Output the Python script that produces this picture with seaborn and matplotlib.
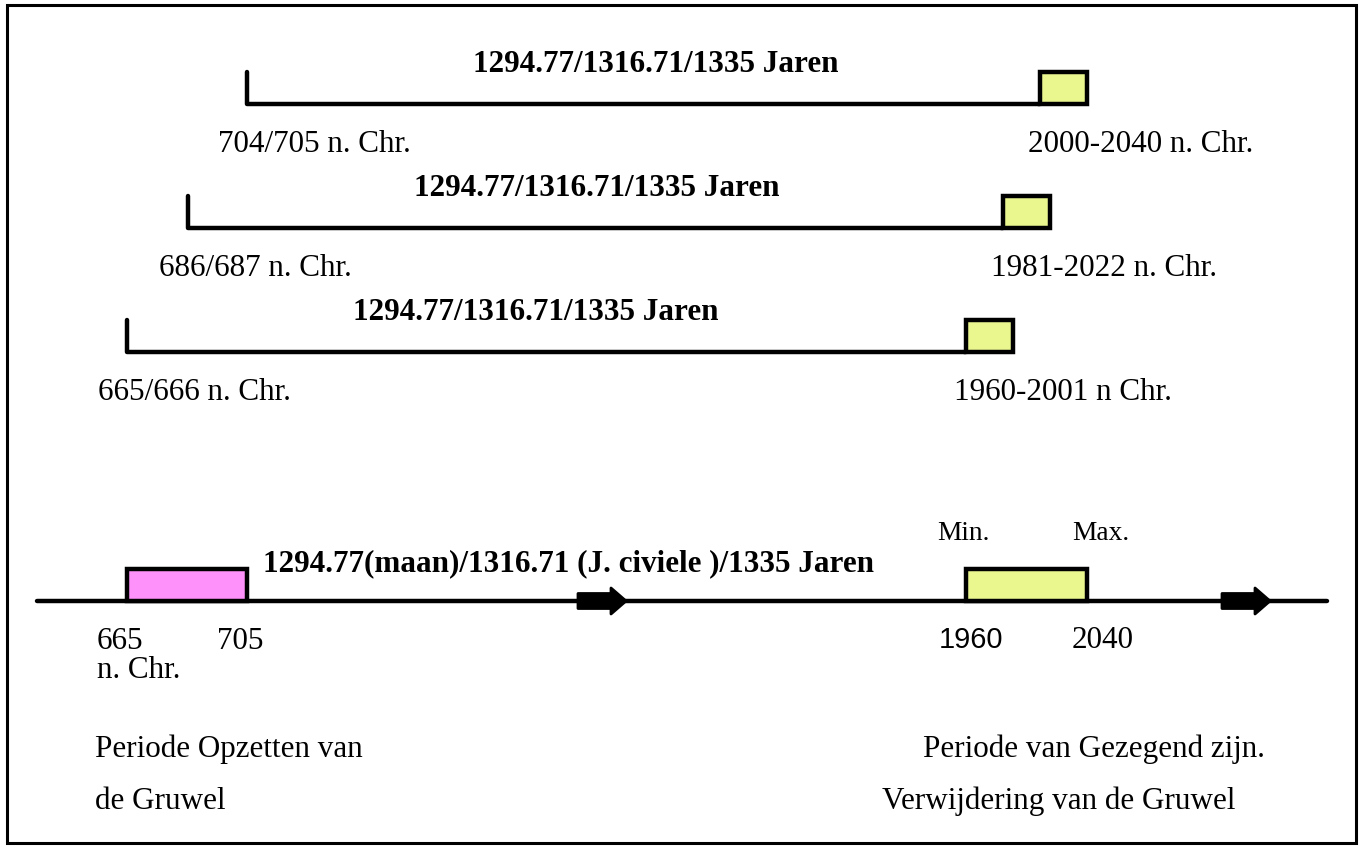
import matplotlib
matplotlib.use('Agg')
import matplotlib.pyplot as plt
import matplotlib.patches as mpatches
import pandas as pd
import seaborn as sns

# text content
span_title = '1294.77/1316.71/1335 Jaren'
start_labels = ['704/705 n. Chr.', '686/687 n. Chr.', '665/666 n. Chr.']
end_labels = ['2000-2040 n. Chr.', '1981-2022 n. Chr.', '1960-2001 n Chr.']
axis_title = '1294.77(maan)/1316.71 (J. civiele )/1335 Jaren'
start_years = ['665', '705']
end_years = ['1960', '2040']
end_marks = ['Min.', 'Max.']
left_caption = ['Periode Opzetten van', 'de Gruwel']
right_caption = ['Periode van Gezegend zijn.', 'Verwijdering van de Gruwel']

# schematic layout (pixel space of the picture)
row_x0 = [247, 188, 127]
row_x1 = [1040, 1003, 966]
row_y = [104, 228, 352]
box_w = 47
box_h = 32
axis_y = 601

sns.set_theme(style='white')
plt.rcParams['font.family'] = ['Liberation Serif', 'DejaVu Serif']
plt.rcParams['text.color'] = 'black'

fig = plt.figure(figsize=(13.62, 8.5), dpi=100)
ax = fig.add_axes([0, 0, 1, 1])
ax.set_xlim(0, 1362)
ax.set_ylim(850, 0)
ax.axis('off')

FS = 22.4
YELLOW = '#eaf78f'
PINK = '#ff91fb'

# outer frame
ax.add_patch(mpatches.Rectangle((7, 5), 1349, 838, fill=False, lw=2.2, ec='black'))

# the three spans
seg = []
for i in range(3):
    x0, x1, y = row_x0[i], row_x1[i], row_y[i]
    seg.append(pd.DataFrame({'x': [x0, x0, x1], 'y': [y - box_h, y, y], 'row': i}))
seg = pd.concat(seg)
for i, g in seg.groupby('row'):
    sns.lineplot(data=g, x='x', y='y', sort=False, estimator=None, color='black',
                 lw=3.2, ax=ax, legend=False)

for i in range(3):
    x0, x1, y = row_x0[i], row_x1[i], row_y[i]
    ax.add_patch(mpatches.Rectangle((x1, y - box_h), box_w, box_h, fc=YELLOW,
                                    ec='black', lw=3.2, zorder=3))
    ax.text(x0 + 409, y - 32, span_title, fontsize=FS, fontweight='bold',
            ha='center', va='baseline')
    ax.text(x0 - 29, y + 48, start_labels[i], fontsize=FS, ha='left', va='baseline')
    ax.text(x1 - 12, y + 48, end_labels[i], fontsize=FS, ha='left', va='baseline')

# main time axis
sns.lineplot(x=[37, 1327], y=[axis_y, axis_y], color='black', lw=3.2, ax=ax)
ax.add_patch(mpatches.Rectangle((127, axis_y - box_h), 120, box_h, fc=PINK,
                                ec='black', lw=3.2, zorder=3))
ax.add_patch(mpatches.Rectangle((966, axis_y - box_h), 121, box_h, fc=YELLOW,
                                ec='black', lw=3.2, zorder=3))
for ax0 in [578, 1222]:
    ax.add_patch(mpatches.FancyArrow(ax0, axis_y, 48, 0, width=15, head_width=26,
                                     head_length=15, length_includes_head=True,
                                     fc='black', ec='black', lw=2, zorder=4,
                                     joinstyle='round', capstyle='round'))

ax.text(263, 571, axis_title, fontsize=FS, fontweight='bold', ha='left', va='baseline')
ax.text(937, 540, end_marks[0], fontsize=FS * 0.88, ha='left', va='baseline')
ax.text(1072, 540, end_marks[1], fontsize=FS * 0.88, ha='left', va='baseline')

ax.text(97, 649, start_years[0], fontsize=FS, ha='left', va='baseline')
ax.text(217, 649, start_years[1], fontsize=FS, ha='left', va='baseline')
ax.text(97, 678, 'n. Chr.', fontsize=FS, ha='left', va='baseline')
ax.text(939, 648, end_years[0], fontsize=FS * 0.93, ha='left', va='baseline',
        family=['Liberation Sans', 'DejaVu Sans'])
ax.text(1072, 648, end_years[1], fontsize=FS, ha='left', va='baseline')

ax.text(95, 757, left_caption[0], fontsize=FS, ha='left', va='baseline')
ax.text(95, 809, left_caption[1], fontsize=FS, ha='left', va='baseline')
ax.text(1265, 757, right_caption[0], fontsize=FS, ha='right', va='baseline')
ax.text(1235, 809, right_caption[1], fontsize=FS, ha='right', va='baseline')

fig.savefig('out.png', dpi=100)
